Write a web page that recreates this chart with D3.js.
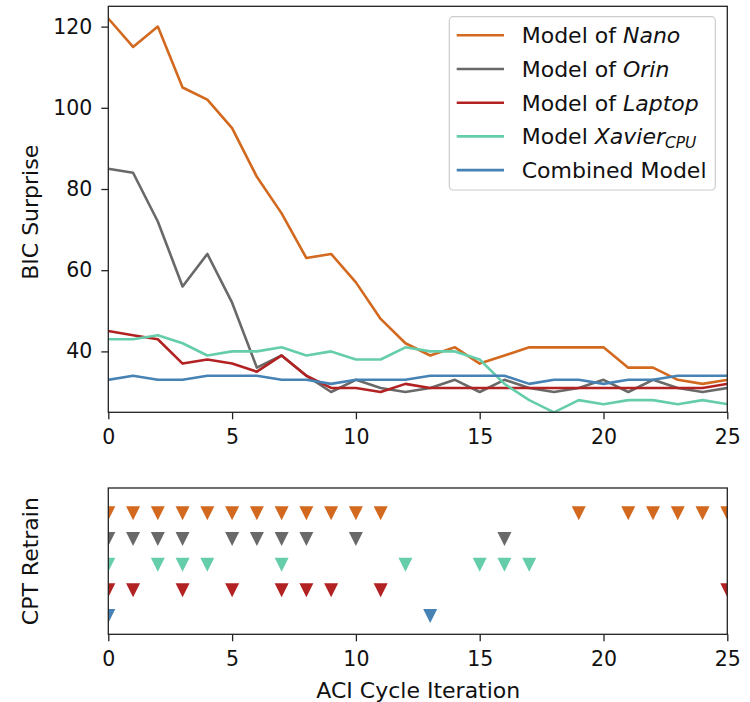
<!DOCTYPE html>
<html>
<head>
<meta charset="utf-8">
<script src="https://cdn.jsdelivr.net/npm/d3@7"></script>
<style>
  html, body { margin: 0; padding: 0; background: #fff; }
  svg { display: block; font-family: "DejaVu Sans", sans-serif; }
</style>
</head>
<body>
<svg id="chart" width="750" height="702"></svg>
<script>
// ACI cycle iterations (x axis)
const iterations = [0,1,2,3,4,5,6,7,8,9,10,11,12,13,14,15,16,17,18,19,20,21,22,23,24,25];

// BIC surprise per model, one value per iteration
const nanoBIC     = [122,115,120,105,102,95,83,74,63,64,57,48,42,39,41,37,39,41,41,41,41,36,36,33,32,33];
const orinBIC     = [85,84,72,56,64,52,36,39,34,30,33,31,30,31,33,30,33,31,30,31,33,30,33,31,30,31];
const laptopBIC   = [45,44,43,37,38,37,35,39,34,31,31,30,32,31,31,31,31,31,31,31,31,31,31,31,31,32];
const xavierBIC   = [43,43,44,42,39,40,40,41,39,40,38,38,41,40,40,38,32,28,25,28,27,28,28,27,28,27];
const combinedBIC = [33,34,33,33,34,34,34,33,33,32,33,33,33,34,34,34,34,32,33,33,32,33,33,34,34,34];

// Iterations where each model's CPTs were retrained
const nanoRetrain     = [0,1,2,3,4,5,6,7,8,9,10,11,19,21,22,23,24,25];
const orinRetrain     = [0,1,2,3,5,6,7,8,10,16];
const xavierRetrain   = [0,2,3,4,7,12,15,16,17];
const laptopRetrain   = [0,1,3,5,7,8,9,11,25];
const combinedRetrain = [0,13];

// Axis ticks
const xTicks = [0,5,10,15,20,25];
const yTicks = [40,60,80,100,120];

const series = [
  { key: "nano",     values: nanoBIC,     retrain: nanoRetrain,     row: 5, color: "#d2691e", label: ["Model of ", "Nano", ""] },
  { key: "orin",     values: orinBIC,     retrain: orinRetrain,     row: 4, color: "#696969", label: ["Model of ", "Orin", ""] },
  { key: "laptop",   values: laptopBIC,   retrain: laptopRetrain,   row: 2, color: "#b22222", label: ["Model of ", "Laptop", ""] },
  { key: "xavier",   values: xavierBIC,   retrain: xavierRetrain,   row: 3, color: "#66cdaa", label: ["Model ", "Xavier", "CPU"] },
  { key: "combined", values: combinedBIC, retrain: combinedRetrain, row: 1, color: "#4682b4", label: ["Combined Model", "", ""] }
];

const svg = d3.select("#chart");
const FONT = 22;
const TICK_FONT = 20.5;

// Panel geometry
const left = 108.3, right = 727.3;
const top1 = 6.3, bottom1 = 412.3;
const top2 = 488, bottom2 = 634.3;

const x = d3.scaleLinear().domain([0, 25]).range([left, right]);
const y = d3.scaleLinear().domain([25, 125]).range([bottom1, top1]);
const yRow = d3.scaleLinear().domain([0.287, 5.985]).range([bottom2, top2]);

const defs = svg.append("defs");
defs.append("clipPath").attr("id", "clipTop")
  .append("rect").attr("x", left).attr("y", top1).attr("width", right - left).attr("height", bottom1 - top1);
defs.append("clipPath").attr("id", "clipBottom")
  .append("rect").attr("x", left).attr("y", top2).attr("width", right - left).attr("height", bottom2 - top2);

// ---------- Top panel: BIC surprise lines ----------
const line = d3.line().x((d, i) => x(iterations[i])).y(d => y(d));
const gLines = svg.append("g").attr("clip-path", "url(#clipTop)");
series.forEach(s => {
  gLines.append("path")
    .datum(s.values)
    .attr("d", line)
    .attr("fill", "none")
    .attr("stroke", s.color)
    .attr("stroke-width", 2.6)
    .attr("stroke-linejoin", "round")
    .attr("stroke-linecap", "square");
});

function styleAxis(g) {
  g.selectAll(".domain").remove();
  g.selectAll(".tick line").attr("stroke", "#222").attr("stroke-width", 1.3);
  g.selectAll(".tick text").attr("fill", "#111").style("font-size", TICK_FONT + "px")
    .style("font-family", "'DejaVu Sans', sans-serif");
}

svg.append("g")
  .attr("transform", `translate(0,${bottom1})`)
  .call(d3.axisBottom(x).tickValues(xTicks).tickFormat(d3.format("d")).tickSize(7).tickPadding(10))
  .call(styleAxis);

svg.append("g")
  .attr("transform", `translate(${left},0)`)
  .call(d3.axisLeft(y).tickValues(yTicks).tickFormat(d3.format("d")).tickSize(7).tickPadding(9))
  .call(styleAxis);

svg.append("rect")
  .attr("x", left).attr("y", top1).attr("width", right - left).attr("height", bottom1 - top1)
  .attr("fill", "none").attr("stroke", "#222").attr("stroke-width", 1.3);

svg.append("text")
  .attr("transform", `translate(38.3,${(top1 + bottom1) / 2 + 3}) rotate(-90)`)
  .attr("text-anchor", "middle")
  .style("font-size", FONT + "px")
  .attr("fill", "#111")
  .text("BIC Surprise");

// Legend
const legend = svg.append("g");
legend.append("rect")
  .attr("x", 449.3).attr("y", 16.7).attr("width", 266).attr("height", 173.3)
  .attr("rx", 4).attr("ry", 4)
  .attr("fill", "rgba(255,255,255,0.8)")
  .attr("stroke", "#cccccc").attr("stroke-width", 1.2);

series.forEach((s, i) => {
  const ly = 35.3 + i * 33.7;
  legend.append("line")
    .attr("x1", 456.7).attr("x2", 504).attr("y1", ly).attr("y2", ly)
    .attr("stroke", s.color).attr("stroke-width", 2.6);
  const t = legend.append("text")
    .attr("x", 521.7).attr("y", ly + 7.8)
    .style("font-size", FONT + "px")
    .attr("fill", "#111");
  t.append("tspan").text(s.label[0]);
  if (s.label[1]) t.append("tspan").style("font-style", "italic").text(s.label[1]);
  if (s.label[2]) t.append("tspan").style("font-style", "italic")
    .style("font-size", (FONT * 0.7) + "px").attr("dy", 4).text(s.label[2]);
});

// ---------- Bottom panel: CPT retrain events ----------
const tri = "M-7,-7L7,-7L0,7Z";
const gMarks = svg.append("g").attr("clip-path", "url(#clipBottom)");
series.forEach(s => {
  gMarks.selectAll(null)
    .data(s.retrain)
    .enter()
    .append("path")
    .attr("d", tri)
    .attr("transform", d => `translate(${x(d)},${yRow(s.row)})`)
    .attr("fill", s.color);
});

svg.append("g")
  .attr("transform", `translate(0,${bottom2})`)
  .call(d3.axisBottom(x).tickValues(xTicks).tickFormat(d3.format("d")).tickSize(7).tickPadding(10))
  .call(styleAxis);

svg.append("rect")
  .attr("x", left).attr("y", top2).attr("width", right - left).attr("height", bottom2 - top2)
  .attr("fill", "none").attr("stroke", "#222").attr("stroke-width", 1.3);

svg.append("text")
  .attr("transform", `translate(38.3,${(top2 + bottom2) / 2}) rotate(-90)`)
  .attr("text-anchor", "middle")
  .style("font-size", FONT + "px")
  .attr("fill", "#111")
  .text("CPT Retrain");

svg.append("text")
  .attr("x", (left + right) / 2 + 0.5).attr("y", 698)
  .attr("text-anchor", "middle")
  .style("font-size", FONT + "px")
  .attr("fill", "#111")
  .text("ACI Cycle Iteration");
</script>
</body>
</html>
